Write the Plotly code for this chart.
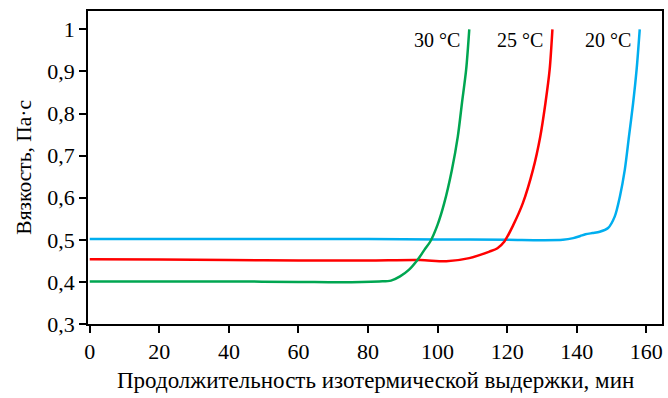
import plotly.graph_objects as go

# 20 °C (blue)
t20 = [0, 20, 40, 60, 80, 100, 120, 130, 136, 139, 141, 142.5, 144.5, 146.6, 149.0, 150.9, 152.4, 153.8, 155.0, 156.2, 157.2, 158.1]
v20 = [0.502, 0.502, 0.502, 0.502, 0.502, 0.501, 0.500, 0.499, 0.500, 0.504, 0.509, 0.513, 0.516, 0.519, 0.528, 0.555, 0.603, 0.666, 0.745, 0.825, 0.904, 1.0]

# 25 °C (red)
t25 = [0, 20, 40, 60, 80, 95, 102.5, 109.1, 114.9, 117.2, 119.2, 121.8, 124.5, 127.4, 129.5, 131.0, 132.2, 133.0]
v25 = [0.454, 0.453, 0.452, 0.451, 0.451, 0.452, 0.449, 0.4565, 0.472, 0.480, 0.496, 0.536, 0.587, 0.666, 0.745, 0.825, 0.904, 1.0]

# 30 °C (green)
t30 = [0, 20, 40, 60, 72, 83.2, 86.6, 89.2, 91.8, 94.2, 96.2, 97.9, 100.0, 101.9, 104.1, 105.8, 107.0, 108.2, 109.1]
v30 = [0.401, 0.401, 0.401, 0.400, 0.399, 0.401, 0.403, 0.413, 0.429, 0.452, 0.476, 0.496, 0.536, 0.587, 0.666, 0.745, 0.825, 0.904, 1.0]

series = [
    ("20 °C", t20, v20, "#00AEEF"),
    ("25 °C", t25, v25, "#FF0000"),
    ("30 °C", t30, v30, "#00A651"),
]

xticks = [0, 20, 40, 60, 80, 100, 120, 140, 160]
yticks = [0.3, 0.4, 0.5, 0.6, 0.7, 0.8, 0.9, 1.0]
ytext = ["0,3", "0,4", "0,5", "0,6", "0,7", "0,8", "0,9", "1"]

FONT = "Liberation Serif"

fig = go.Figure()
for name, t, v, c in series:
    fig.add_trace(go.Scatter(x=t, y=v, mode="lines", name=name,
                             line=dict(color=c, width=2.5, shape="spline", smoothing=0.8),
                             showlegend=False))
    fig.add_annotation(x=t[-1], y=v[-1], text=name, showarrow=False,
                       xanchor="right", yanchor="middle", xshift=-7, yshift=-11,
                       font=dict(family=FONT, size=20, color="black"))

fig.add_annotation(xref="paper", yref="paper", x=0.5, y=-0.134, yanchor="top",
                   text="Продолжительность изотермической выдержки, мин", showarrow=False,
                   font=dict(family=FONT, size=23, color="black"))
fig.add_annotation(xref="paper", yref="paper", x=-0.113, y=0.5, xanchor="center",
                   textangle=-90, text="Вязкость, Па·с", showarrow=False,
                   font=dict(family=FONT, size=21.5, color="black"))

fig.update_layout(
    width=668, height=398,
    margin=dict(l=88, r=6, t=11, b=74, autoexpand=False),
    plot_bgcolor="white", paper_bgcolor="white",
    font=dict(family=FONT, size=22, color="black"),
)
fig.update_xaxes(range=[-0.5, 164.5], tickvals=xticks, ticks="outside", ticklen=7,
                 tickwidth=1.5, tickcolor="black", showline=True, linecolor="black",
                 linewidth=1.5, mirror=True, showgrid=False, zeroline=False,
                 tickfont=dict(family=FONT, size=22, color="black"),
                 automargin=False)
fig.update_yaxes(range=[0.3, 1.0435], tickvals=yticks, ticktext=ytext, ticks="outside",
                 ticklen=7, tickwidth=1.5, tickcolor="black", showline=True,
                 linecolor="black", linewidth=1.5, mirror=True, showgrid=False,
                 tickfont=dict(family=FONT, size=22, color="black"),
                 zeroline=False, automargin=False)

fig.write_html("out.html", config={"displayModeBar": False},
               post_script="document.body.style.margin='0';")
